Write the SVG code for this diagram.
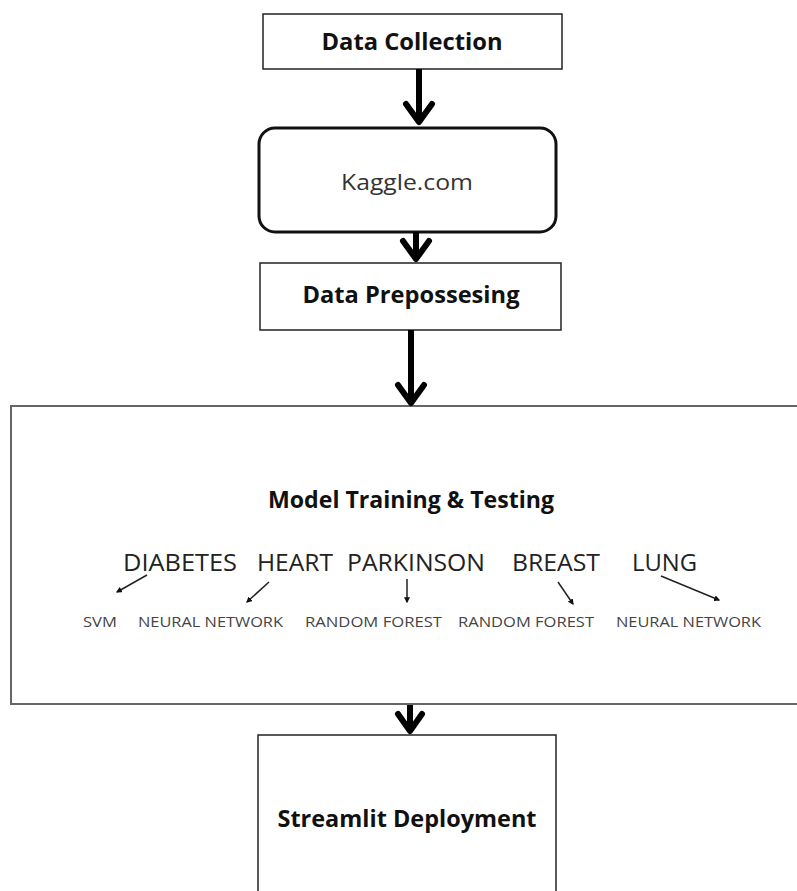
<svg xmlns="http://www.w3.org/2000/svg" width="797" height="891" viewBox="0 0 797 891">
<style>
.box{fill:#fff;stroke:#222;stroke-width:1.5}
.big{fill:#fff;stroke:#666;stroke-width:2}
.b{font-family:"Open Sans","Liberation Sans",sans-serif;font-weight:700;font-size:23px;fill:#111;text-anchor:middle}
.k{font-family:"Open Sans","Liberation Sans",sans-serif;font-size:22px;fill:#333;text-anchor:middle}
.d{font-family:"Open Sans","Liberation Sans",sans-serif;font-size:23px;fill:#222;text-anchor:middle}
.s{font-family:"Open Sans","Liberation Sans",sans-serif;font-size:14px;fill:#444;text-anchor:middle}
.thick{stroke:#000;stroke-width:6;fill:none}
.head{stroke:#000;stroke-width:6;fill:none;stroke-linecap:round;stroke-linejoin:round}
.thin{stroke:#222;stroke-width:1.5;fill:none;marker-end:url(#dot)}
</style>
<defs>
<marker id="dot" viewBox="0 0 10 10" refX="8" refY="5" markerWidth="6" markerHeight="6" orient="auto" markerUnits="userSpaceOnUse">
<path d="M0,0 L10,5 L0,10 Z" fill="#111"/>
</marker>
</defs>
<rect width="797" height="891" fill="#fff"/>
<g id="data-collection">
<rect class="box" x="263" y="14" width="299" height="55"/>
<text class="b" x="412" y="50" textLength="181" lengthAdjust="spacingAndGlyphs">Data Collection</text>
</g>
<g id="kaggle">
<rect x="259" y="128" width="297" height="104" rx="16" fill="#fff" stroke="#111" stroke-width="3"/>
<text class="k" x="407" y="190" textLength="132" lengthAdjust="spacingAndGlyphs">Kaggle.com</text>
</g>
<g id="data-prepossesing">
<rect class="box" x="260" y="263" width="301" height="67"/>
<text class="b" x="411" y="303" textLength="217" lengthAdjust="spacingAndGlyphs">Data Prepossesing</text>
</g>
<g id="model-training">
<path class="big" d="M800,406 L11,406 L11,704 L800,704"/>
<text class="b" x="411" y="508" textLength="286" lengthAdjust="spacingAndGlyphs">Model Training &amp; Testing</text>
<text class="d" x="180" y="571" textLength="114" lengthAdjust="spacingAndGlyphs">DIABETES</text>
<text class="d" x="295" y="571" textLength="76" lengthAdjust="spacingAndGlyphs">HEART</text>
<text class="d" x="416" y="571" textLength="138" lengthAdjust="spacingAndGlyphs">PARKINSON</text>
<text class="d" x="556" y="571" textLength="88" lengthAdjust="spacingAndGlyphs">BREAST</text>
<text class="d" x="664.5" y="571" textLength="65" lengthAdjust="spacingAndGlyphs">LUNG</text>
<text class="s" x="100" y="627" textLength="34" lengthAdjust="spacingAndGlyphs">SVM</text>
<text class="s" x="210.5" y="627" textLength="145" lengthAdjust="spacingAndGlyphs">NEURAL NETWORK</text>
<text class="s" x="373.5" y="627" textLength="137" lengthAdjust="spacingAndGlyphs">RANDOM FOREST</text>
<text class="s" x="526" y="627" textLength="136" lengthAdjust="spacingAndGlyphs">RANDOM FOREST</text>
<text class="s" x="688.5" y="627" textLength="145" lengthAdjust="spacingAndGlyphs">NEURAL NETWORK</text>
</g>
<g id="streamlit">
<rect class="box" x="258" y="735" width="298" height="170"/>
<text class="b" x="407" y="827" textLength="259" lengthAdjust="spacingAndGlyphs">Streamlit Deployment</text>
</g>
<g id="connectors">
<line class="thick" x1="419" y1="69" x2="419" y2="122"/>
<polyline class="head" points="406,104 419,122 432,104"/>
<line class="thick" x1="416" y1="232" x2="416" y2="259"/>
<polyline class="head" points="403,241 416,259 429,241"/>
<line class="thick" x1="411" y1="330" x2="411" y2="403"/>
<polyline class="head" points="398,385 411,403 424,385"/>
<line class="thick" x1="410" y1="705" x2="410" y2="731"/>
<polyline class="head" points="398,714 410,731 422,714"/>
<line class="thin" x1="147" y1="575" x2="117" y2="592"/>
<line class="thin" x1="269" y1="582" x2="247" y2="602"/>
<line class="thin" x1="407" y1="579" x2="407" y2="602"/>
<line class="thin" x1="558" y1="582" x2="573" y2="604"/>
<line class="thin" x1="661" y1="576" x2="719" y2="600"/>
</g>
</svg>
